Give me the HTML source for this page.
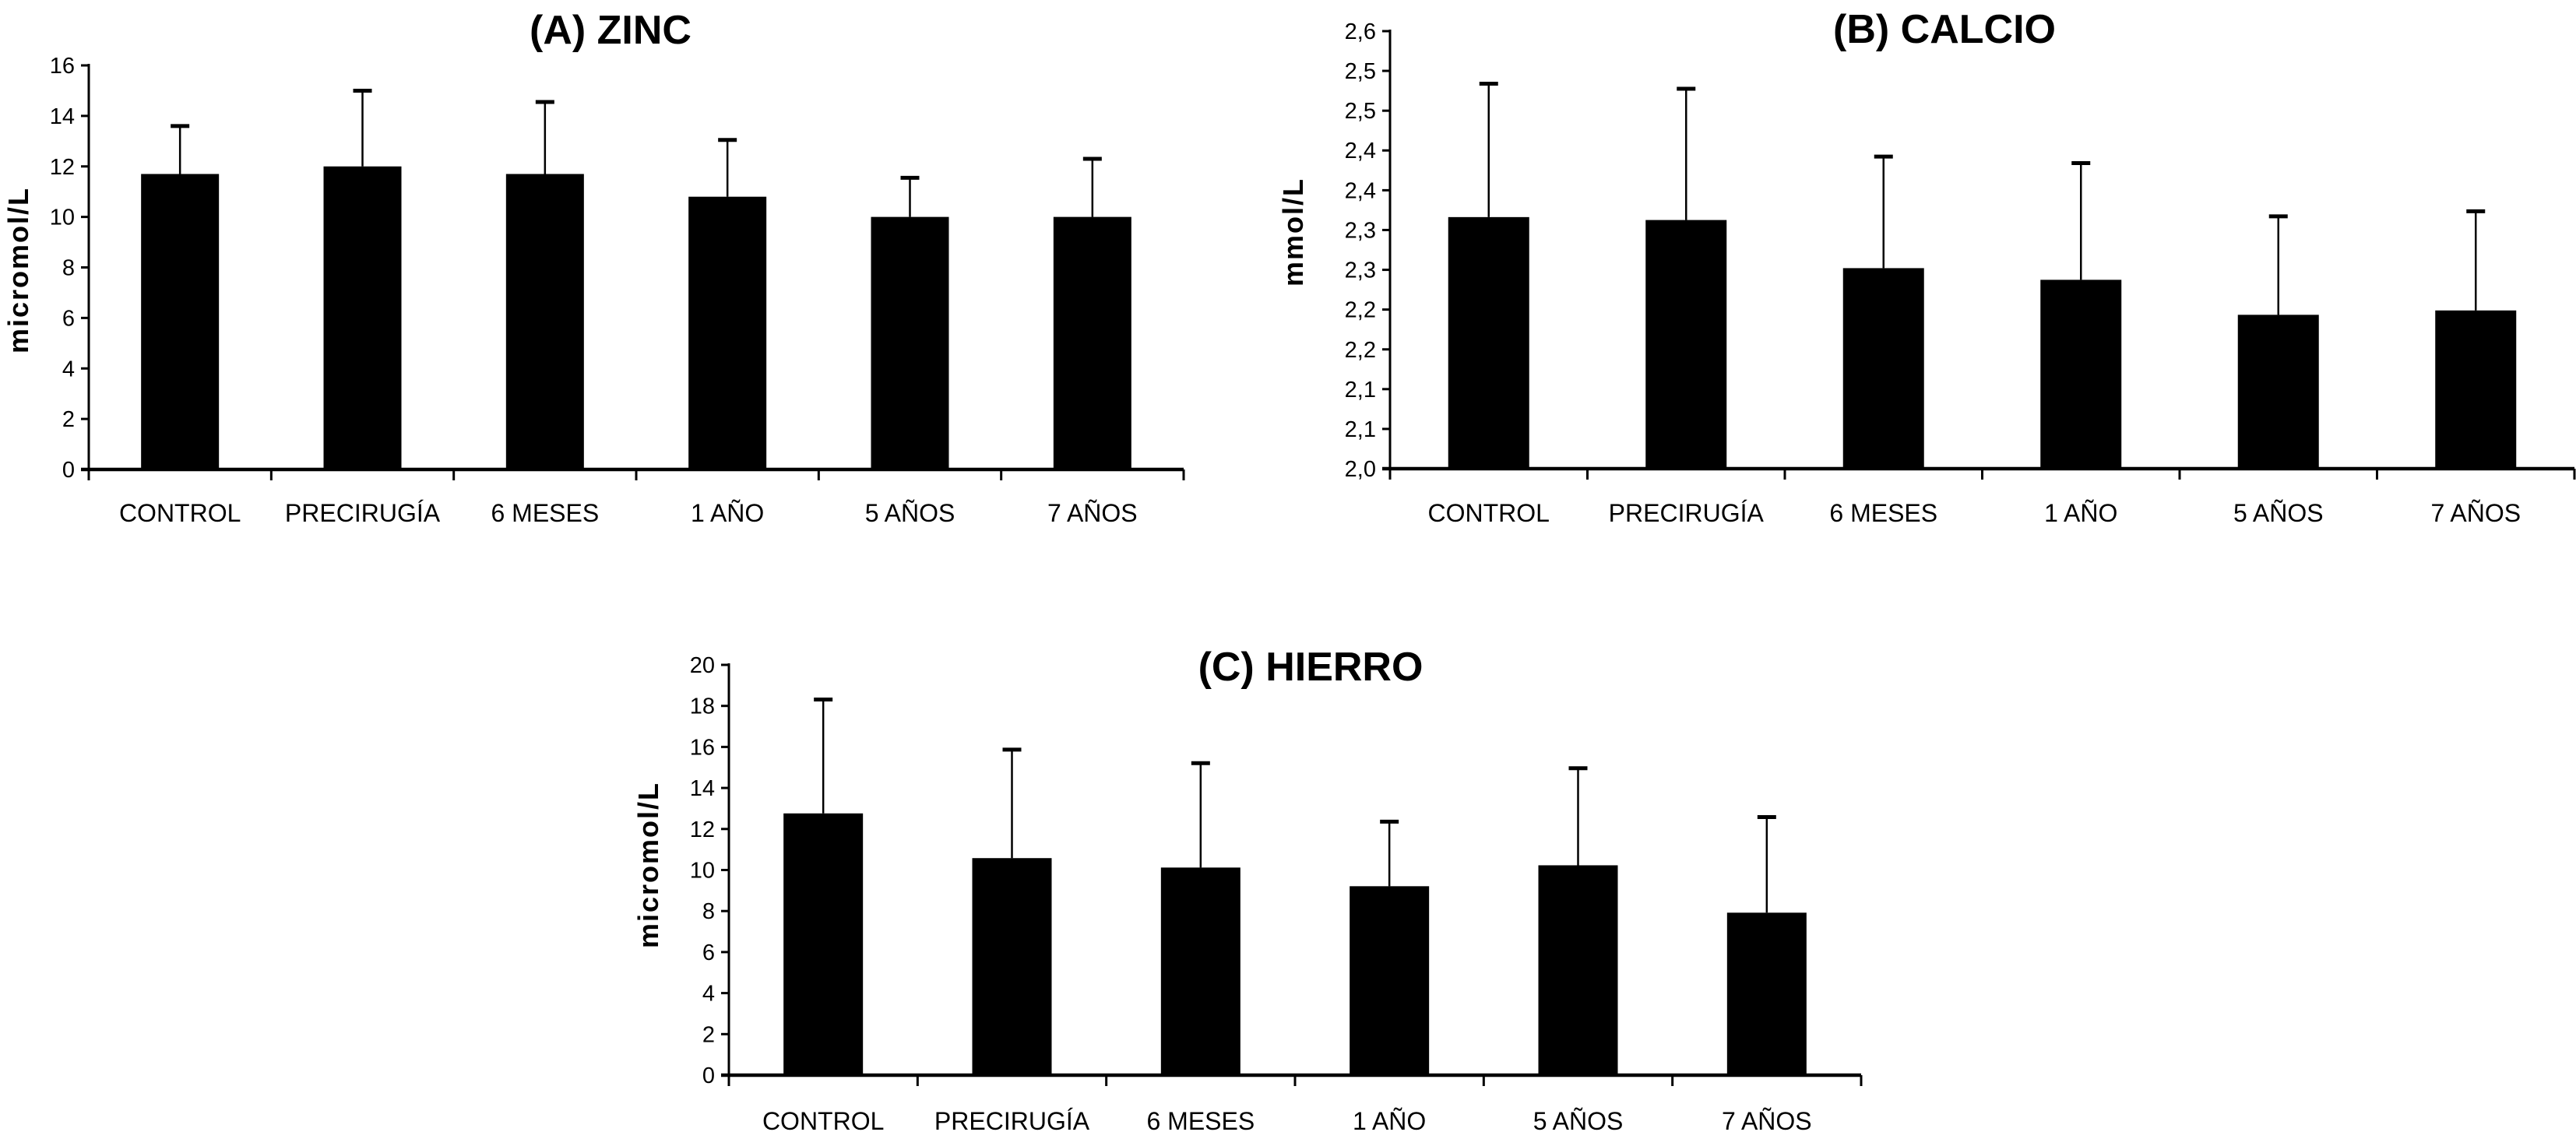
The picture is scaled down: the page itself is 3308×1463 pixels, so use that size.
<!DOCTYPE html>
<html><head><meta charset="utf-8">
<style>
html,body{margin:0;padding:0;background:#fff;}
svg{display:block;font-family:"Liberation Sans",Arial,sans-serif;}
</style></head>
<body>
<svg id="fig" width="3308" height="1463" viewBox="0 0 3308 1463" xmlns="http://www.w3.org/2000/svg"></svg>
<script>
const categories = ["CONTROL","PRECIRUGÍA","6 MESES","1 AÑO","5 AÑOS","7 AÑOS"];
const zincValues = [11.7, 12.0, 11.7, 10.8, 10.0, 10.0];
const zincErrTop = [13.6, 15.0, 14.55, 13.05, 11.55, 12.3];
const zincTicks = [0,2,4,6,8,10,12,14,16];
const zincTickLabels = ["0","2","4","6","8","10","12","14","16"];
const calcioValues = [2.345, 2.341, 2.275, 2.259, 2.211, 2.217];
const calcioErrTop = [2.528, 2.521, 2.428, 2.419, 2.346, 2.353];
const calcioTicks = [2.0,2.0545,2.1091,2.1636,2.2182,2.2727,2.3273,2.3818,2.4364,2.4909,2.5455,2.6];
const calcioTickLabels = ["2,0","2,1","2,1","2,2","2,2","2,3","2,3","2,4","2,4","2,5","2,5","2,6"];
const hierroValues = [12.76, 10.58, 10.12, 9.21, 10.23, 7.92];
const hierroErrTop = [18.31, 15.87, 15.21, 12.36, 14.96, 12.58];
const hierroTicks = [0,2,4,6,8,10,12,14,16,18,20];
const hierroTickLabels = ["0","2","4","6","8","10","12","14","16","18","20"];

const NS="http://www.w3.org/2000/svg";
const svg=document.getElementById('fig');
function mk(tag,attrs,parent,text){const e=document.createElementNS(NS,tag);for(const k in attrs)e.setAttribute(k,attrs[k]);if(text!==undefined)e.textContent=text;parent.appendChild(e);return e;}

function chart(o){
  const g=mk('g',{},svg);
  
  
  const y=v=>o.y0+(v-o.vmin)/(o.vmax-o.vmin)*(o.y1-o.y0);
  const catW=(o.x1-o.x0)/categories.length;
  const xc=i=>o.x0+catW*(i+0.5);
  // title
  const t=mk('text',{x:o.tx,y:o.ty,'text-anchor':'middle','font-size':52,'font-weight':'bold'},g,o.title);
  
  
  // y title
  const yt=mk('text',{x:0,y:0,transform:`translate(${o.ytx},${o.yty}) rotate(-90)`,'text-anchor':'middle','font-size':36,'font-weight':'bold','letter-spacing':'2'},g,o.ytitle);
  
  
  // bars
  categories.forEach((c,i)=>{
    const v=o.values[i], e=o.err[i];
    const r=mk('rect',{x:xc(i)-o.bw/2,y:y(v),width:o.bw,height:o.y0-y(v),fill:'#000'},g);
    
    
    const l=mk('line',{x1:xc(i),x2:xc(i),y1:y(v),y2:y(e),stroke:'#000','stroke-width':2.5},g);
    
    
    const cap=mk('line',{x1:xc(i)-12,x2:xc(i)+12,y1:y(e),y2:y(e),stroke:'#000','stroke-width':5},g);
    
    
    const lb=mk('text',{x:xc(i),y:o.labY,'text-anchor':'middle','font-size':32},g,c);
    
    
  });
  // axes
  const ya=mk('line',{x1:o.x0,x2:o.x0,y1:o.y1-2,y2:o.y0+14,stroke:'#000','stroke-width':3},g);
  
  
  const xa=mk('line',{x1:o.x0-10,x2:o.x1,y1:o.y0,y2:o.y0,stroke:'#000','stroke-width':4.5},g);
  
  
  for(let i=0;i<=categories.length;i++){
    const xx=o.x0+catW*i;
    const tk=mk('line',{x1:xx,x2:xx,y1:o.y0,y2:o.y0+14,stroke:'#000','stroke-width':3},g);
    
    
  }
  o.ticks.forEach((v,i)=>{
    const tk=mk('line',{x1:o.x0-10,x2:o.x0,y1:y(v),y2:y(v),stroke:'#000','stroke-width':3},g);
    
    
    const tl=mk('text',{x:o.x0-18,y:y(v)+10,'text-anchor':'end','font-size':29},g,o.tickLabels[i]);
    
    
  });
}
chart({name:'zinc-chart',title:'(A) ZINC',tx:784,ty:56,ytitle:'micromol/L',ytx:36,yty:347,
  x0:114,x1:1520,y0:603,y1:84,vmin:0,vmax:16,bw:100,labY:670,
  values:zincValues,err:zincErrTop,ticks:zincTicks,tickLabels:zincTickLabels});
chart({name:'calcio-chart',title:'(B) CALCIO',tx:2497,ty:55,ytitle:'mmol/L',ytx:1673,yty:298,
  x0:1785,x1:3306,y0:602,y1:40,vmin:2.0,vmax:2.6,bw:104,labY:670,
  values:calcioValues,err:calcioErrTop,ticks:calcioTicks,tickLabels:calcioTickLabels});
chart({name:'hierro-chart',title:'(C) HIERRO',tx:1683,ty:874,ytitle:'micromol/L',ytx:845,yty:1111,
  x0:936,x1:2390,y0:1381,y1:854,vmin:0,vmax:20,bw:102,labY:1451,
  values:hierroValues,err:hierroErrTop,ticks:hierroTicks,tickLabels:hierroTickLabels});
</script>
</body></html>
